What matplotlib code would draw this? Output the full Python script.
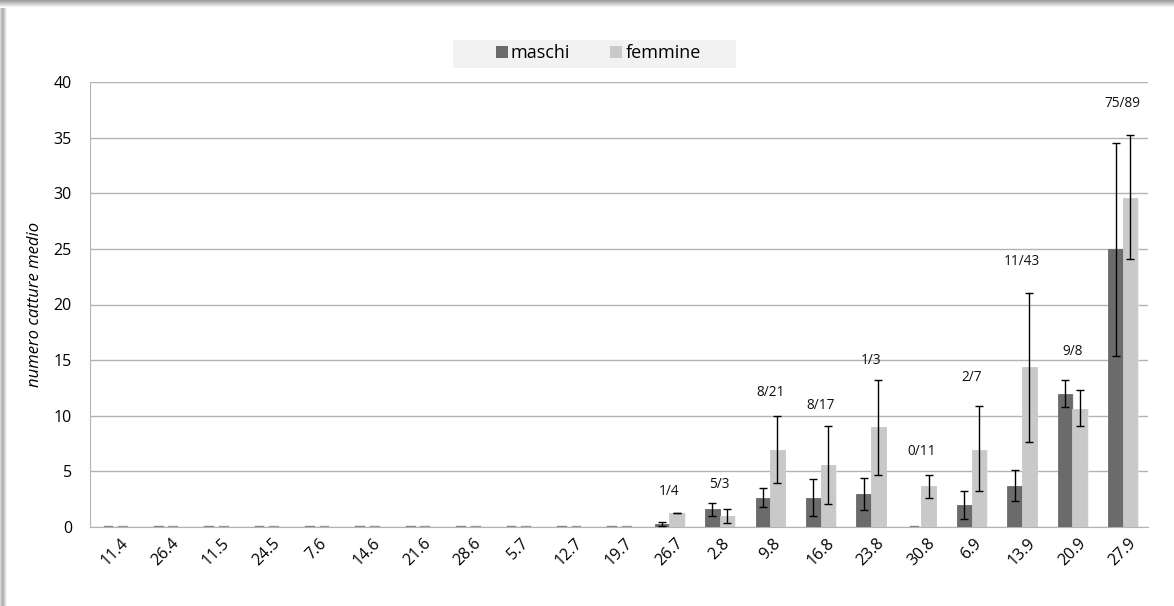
import matplotlib
matplotlib.use('Agg')
import matplotlib.pyplot as plt
from matplotlib.patches import Rectangle
import numpy as np

plt.rcParams['font.family'] = ['Open Sans', 'DejaVu Sans']

# ---------------- Data ---------------- #
dates = ['11.4', '26.4', '11.5', '24.5', '7.6', '14.6', '21.6', '28.6', '5.7', '12.7',
         '19.7', '26.7', '2.8', '9.8', '16.8', '23.8', '30.8', '6.9', '13.9', '20.9', '27.9']

maschi = [0, 0, 0, 0, 0, 0, 0, 0, 0, 0,
          0, 0.25, 1.65, 2.6, 2.6, 2.95, 0, 2.0, 3.7, 12.0, 25.0]
maschi_low = [0, 0, 0, 0, 0, 0, 0, 0, 0, 0,
              0, 0.1, 1.0, 1.8, 1.0, 1.55, 0, 0.75, 2.3, 10.8, 15.4]
maschi_high = [0, 0, 0, 0, 0, 0, 0, 0, 0, 0,
               0, 0.42, 2.2, 3.5, 4.3, 4.4, 0, 3.25, 5.1, 13.2, 34.5]

femmine = [0, 0, 0, 0, 0, 0, 0, 0, 0, 0,
           0, 1.26, 0.96, 6.95, 5.55, 8.95, 3.7, 6.95, 14.35, 10.6, 29.6]
femmine_low = [0, 0, 0, 0, 0, 0, 0, 0, 0, 0,
               0, 1.23, 0.36, 3.95, 2.1, 4.65, 2.65, 3.2, 7.6, 9.05, 24.1]
femmine_high = [0, 0, 0, 0, 0, 0, 0, 0, 0, 0,
                0, 1.29, 1.6, 9.95, 9.1, 13.25, 4.7, 10.9, 21.0, 12.3, 35.2]

# catch counts (maschi/femmine) written above each group, with their heights
counts = {11: '1/4', 12: '5/3', 13: '8/21', 14: '8/17', 15: '1/3', 16: '0/11',
          17: '2/7', 18: '11/43', 19: '9/8', 20: '75/89'}
count_y = {11: 3.2, 12: 3.8, 13: 12.1, 14: 10.9, 15: 15.0, 16: 6.8,
           17: 13.4, 18: 23.9, 19: 15.8, 20: 38.1}

dark = '#6b6b6b'
light = '#c9c9c9'

fig = plt.figure(figsize=(11.74, 6.06), dpi=100)
ax = fig.add_axes([90 / 1174, 1 - 527 / 606, 1058 / 1174, 445 / 606])

x = np.arange(len(dates))
w = 0.29


def errs(vals, low, high):
    v = np.array(vals)
    return [v - np.array(low), np.array(high) - v]


m_mask = np.array(maschi_high) > 0
f_mask = np.array(femmine_high) > 0

# faint shadow to the right of each bar
ax.bar(x - w / 2 + 0.03, maschi, w, color='#d8d8d8', alpha=0.6, zorder=2)
ax.bar(x + w / 2 + 0.03, femmine, w, color='#e6e6e6', alpha=0.6, zorder=2)
ax.bar(x - w / 2, maschi, w, color=dark, edgecolor=dark, linewidth=0.6, zorder=3)
ax.bar(x + w / 2, femmine, w, color=light, edgecolor=light, linewidth=0.6, zorder=3)

# zero bars show up as little dashes on the baseline
for xi in x[~m_mask]:
    ax.plot([xi - w / 2 - w * 0.3, xi - w / 2 + w * 0.3], [0.05, 0.05], color='#888888', lw=1, zorder=4)
for xi in x[~f_mask]:
    ax.plot([xi + w / 2 - w * 0.3, xi + w / 2 + w * 0.3], [0.05, 0.05], color='#999999', lw=1, zorder=4)

em = errs(maschi, maschi_low, maschi_high)
ef = errs(femmine, femmine_low, femmine_high)
ax.errorbar((x - w / 2)[m_mask], np.array(maschi)[m_mask],
            yerr=[em[0][m_mask], em[1][m_mask]], fmt='none', ecolor='black',
            elinewidth=1, capsize=3, capthick=1, zorder=5)
ax.errorbar((x + w / 2)[f_mask], np.array(femmine)[f_mask],
            yerr=[ef[0][f_mask], ef[1][f_mask]], fmt='none', ecolor='black',
            elinewidth=1, capsize=3, capthick=1, zorder=5)

for i, txt in counts.items():
    ax.text(x[i], count_y[i], txt, ha='center', va='center', fontsize=9.8, color='#111111', zorder=6)

ax.set_xlim(-0.5, len(dates) - 0.5)
ax.set_ylim(0, 40)
ax.set_yticks(range(0, 41, 5))
ax.yaxis.grid(True, color='#b3b3b3', linewidth=1)
ax.set_axisbelow(True)
ax.set_xticks(x)
ax.set_xticklabels(dates, rotation=45, ha='center', va='top', fontsize=11.5)
ax.tick_params(axis='x', length=0, pad=6)
ax.tick_params(axis='y', length=0, pad=13, labelsize=11.5)
for s in ['top', 'right']:
    ax.spines[s].set_visible(False)
ax.spines['left'].set_color('#b3b3b3')
ax.spines['bottom'].set_color('#b3b3b3')
ax.set_ylabel('numero catture medio', style='italic', fontsize=12, labelpad=8)

# legend box
fig.patches.append(Rectangle((453 / 1174, 1 - 68 / 606), 283 / 1174, 28 / 606,
                             transform=fig.transFigure, facecolor='#f2f2f2',
                             edgecolor='none', zorder=0))
fig.patches.append(Rectangle((496 / 1174, 1 - 58 / 606), 12 / 1174, 12 / 606,
                             transform=fig.transFigure, facecolor=dark, edgecolor='none'))
fig.text(510 / 1174, 1 - 53 / 606, 'maschi', fontsize=13, va='center', ha='left')
fig.patches.append(Rectangle((610 / 1174, 1 - 58 / 606), 12 / 1174, 12 / 606,
                             transform=fig.transFigure, facecolor=light, edgecolor='none'))
fig.text(626 / 1174, 1 - 53 / 606, 'femmine', fontsize=13, va='center', ha='left')

# soft gray frame along top and left edge
grad = np.linspace(0.62, 1.0, 8)
top = fig.add_axes([0, 1 - 8 / 606, 1, 8 / 606])
top.imshow(grad[:, None], cmap='gray', vmin=0, vmax=1, aspect='auto')
top.axis('off')
left = fig.add_axes([0, 0, 8 / 1174, 1 - 8 / 606])
left.imshow(np.array([[0.85, 0.75, 0.7, 0.72, 0.8, 0.9, 0.96, 1.0]]),
            cmap='gray', vmin=0, vmax=1, aspect='auto')
left.axis('off')

fig.savefig('out.png', dpi=100)
